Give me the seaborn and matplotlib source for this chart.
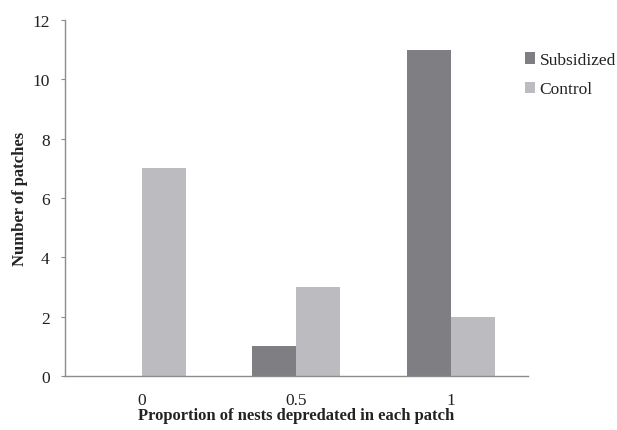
import pandas as pd
import seaborn as sns
import matplotlib
matplotlib.use("Agg")
import matplotlib.pyplot as plt

# data
categories = ['0', '0.5', '1']
subsidized = [0, 1, 11]
control = [7, 3, 2]
series_names = ['Subsidized', 'Control']

df = pd.DataFrame({
    'proportion': categories * 2,
    'count': subsidized + control,
    'group': [series_names[0]] * 3 + [series_names[1]] * 3,
})

sns.set_theme(style="white")
plt.rcParams['font.family'] = ['Liberation Serif', 'DejaVu Serif']

mypalette = {'Subsidized': '#7f7f83', 'Control': '#bcbcc0'}

fig = plt.figure(figsize=(6.17, 4.31), dpi=100)
ax = fig.add_axes([0.105, 0.125, 0.751, 0.826])

sns.barplot(data=df, x='proportion', y='count', hue='group', order=categories,
            hue_order=series_names, palette=mypalette, width=0.57,
            saturation=1, ax=ax, linewidth=0)

ax.set_ylim(0, 12)
ax.set_yticks(range(0, 13, 2))
ax.set_xlim(-0.5, 2.5)

for s in ['top', 'right']:
    ax.spines[s].set_visible(False)
for s in ['left', 'bottom']:
    ax.spines[s].set_color('#8c8c8c')
    ax.spines[s].set_linewidth(1.0)

ax.tick_params(axis='y', which='both', left=True, length=3, width=0.8,
               color='#8c8c8c', labelsize=12.5, pad=8, labelcolor='#222222')
ax.tick_params(axis='x', which='both', bottom=False, labelsize=12.5, pad=5.5,
               labelcolor='#222222')

ax.set_xlabel('Proportion of nests depredated in each patch', fontsize=12,
              fontweight='bold', labelpad=-1, color='#222222')
ax.set_ylabel('Number of patches', fontsize=12, fontweight='bold',
              labelpad=3, color='#222222')

handles, labels = ax.get_legend_handles_labels()
ax.legend(handles=handles, labels=labels, loc='upper left',
          bbox_to_anchor=(0.825, 0.913), bbox_transform=fig.transFigure,
          frameon=False, fontsize=12.5, handlelength=0.6, handleheight=0.6,
          handletextpad=0.25, labelspacing=0.75, labelcolor='#222222')

plt.savefig('out.png', dpi=100)
plt.close()
